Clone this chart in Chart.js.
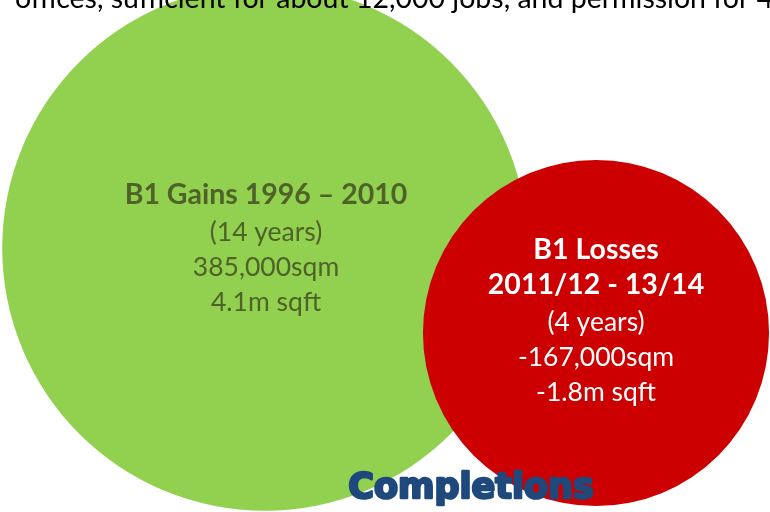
<!DOCTYPE html>
<html>
<head>
<meta charset="utf-8">
<script src="https://cdn.jsdelivr.net/npm/chart.js@4"></script>
<style>
  body { margin: 0; background: #fff; }
</style>
</head>
<body>
<canvas id="venn" width="770" height="512"></canvas>
<script>
// B1 floorspace: gains vs losses (sqm), bubble area ~ floorspace
const categories = ['B1 Gains 1996 – 2010', 'B1 Losses 2011/12 - 13/14'];
const floorspace = [385000, 167000];
const gainsLines = ['B1 Gains 1996 – 2010', '(14 years)', '385,000sqm', '4.1m sqft'];
const lossesLines = ['B1 Losses', '2011/12 - 13/14', '(4 years)', '-167,000sqm', '-1.8m sqft'];
const centersX = [265, 596];
const centersY = [248, 333];
const colors = ['#92D050', '#CC0000'];

const radiusScale = 0.4235; // px per sqrt(sqm)

const labelPlugin = {
    id: 'circleLabels',
    afterDatasetsDraw(chart) {
        const ctx = chart.ctx;
        const pts = chart.getDatasetMeta(0).data;
        ctx.save();
        ctx.textAlign = 'center';
        ctx.textBaseline = 'middle';

        // green circle text
        const gOff = [-53.5, -15.5, 19.5, 54];
        let g = pts[0];
        gainsLines.forEach((line, i) => {
            ctx.font = i === 0 ? 'bold 28.5px Lato' : '26.5px Lato';
            ctx.fillStyle = '#4F6228';
            ctx.fillText(line, g.x + 1, g.y + gOff[i]);
        });

        // red circle text
        const rOff = [-83.5, -48, -10.5, 24.5, 59];
        let r = pts[1];
        lossesLines.forEach((line, i) => {
            ctx.font = i < 2 ? 'bold 28.5px Lato' : '26.5px Lato';
            ctx.fillStyle = '#ffffff';
            ctx.fillText(line, r.x, r.y + rOff[i]);
        });

        // clipped sentence at the top
        ctx.textAlign = 'left';
        ctx.textBaseline = 'alphabetic';
        ctx.fillStyle = '#000000';
        ctx.font = '28.5px Lato';
        ctx.fillText('offices, sufficient for about 12,000 jobs, and permission for 4', 15, 8);

        // caption
        ctx.textAlign = 'center';
        ctx.fillStyle = '#1F497D';
        ctx.strokeStyle = '#1F497D';
        ctx.lineWidth = 2.5;
        ctx.lineJoin = 'round';
        ctx.font = 'bold 35px "DejaVu Sans"';
        ctx.strokeText('Completions', 471, 498);
        ctx.fillText('Completions', 471, 498);
        ctx.restore();
    }
};

new Chart(document.getElementById('venn').getContext('2d'), {
    type: 'bubble',
    data: {
        labels: categories,
        datasets: [{
            data: floorspace.map((v, i) => ({ x: centersX[i], y: centersY[i], r: Math.sqrt(v) * radiusScale })),
            backgroundColor: colors,
            borderWidth: 0,
            hoverBorderWidth: 0,
            clip: false
        }]
    },
    options: {
        responsive: false,
        animation: false,
        events: [],
        layout: { padding: 0, autoPadding: false },
        plugins: { legend: { display: false }, tooltip: { enabled: false } },
        scales: {
            x: { type: 'linear', display: false, min: 0, max: 770 },
            y: { type: 'linear', display: false, min: 0, max: 512, reverse: true }
        }
    },
    plugins: [labelPlugin]
});
</script>
</body>
</html>
